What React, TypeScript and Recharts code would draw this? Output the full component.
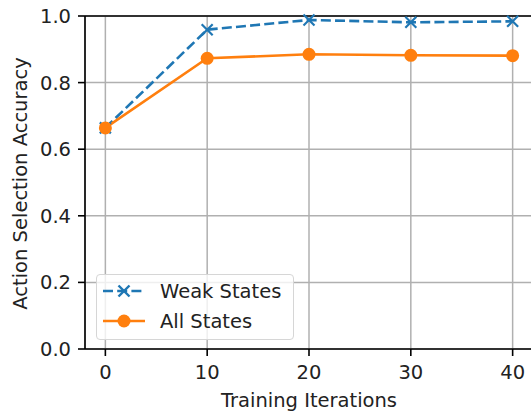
import React from 'react';
import { LineChart, Line, XAxis, YAxis, CartesianGrid, ReferenceLine, Label } from 'recharts';

const iterations = [0, 10, 20, 30, 40];
const weakStates = [0.664, 0.959, 0.988, 0.981, 0.984];
const allStates = [0.664, 0.873, 0.885, 0.882, 0.881];
const seriesNames = ['Weak States', 'All States'];
const xTicks = [0, 10, 20, 30, 40];
const yTicks = [0, 0.2, 0.4, 0.6, 0.8, 1.0];

const data = iterations.map((it, i) => ({ it, weak: weakStates[i], all: allStates[i] }));

const BLUE = '#1f77b4';
const ORANGE = '#ff7f0e';
const FONT = 'DejaVu Sans';
const FS = 19.5;
const DASH = '10 4.2';

const XDot = (props: any) => {
  const { cx, cy } = props;
  if (cx == null || cy == null) return null;
  const s = 5.5;
  return (
    <g>
      <line x1={cx - s} y1={cy - s} x2={cx + s} y2={cy + s} stroke={BLUE} strokeWidth={2.2} />
      <line x1={cx - s} y1={cy + s} x2={cx + s} y2={cy - s} stroke={BLUE} strokeWidth={2.2} />
    </g>
  );
};

const Legend2 = () => (
  <div
    style={{
      position: 'absolute',
      left: 96,
      top: 274,
      width: 198,
      height: 66,
      background: 'rgba(255,255,255,0.8)',
      border: '1.5px solid #d6d6d6',
      borderRadius: 4,
      boxSizing: 'border-box',
    }}
  >
    <svg width={198} height={66} style={{ position: 'absolute', left: -1.5, top: -1.5 }}>
      <line x1={7} y1={17} x2={49} y2={17} stroke={BLUE} strokeWidth={2.6} strokeDasharray={DASH} />
      <g>
        <line x1={28 - 5.5} y1={17 - 5.5} x2={28 + 5.5} y2={17 + 5.5} stroke={BLUE} strokeWidth={2.4} />
        <line x1={28 - 5.5} y1={17 + 5.5} x2={28 + 5.5} y2={17 - 5.5} stroke={BLUE} strokeWidth={2.4} />
      </g>
      <text x={64} y={17} dominantBaseline="central" fontFamily={FONT} fontSize={FS} fill="#222">
        {seriesNames[0]}
      </text>
      <line x1={7} y1={47} x2={49} y2={47} stroke={ORANGE} strokeWidth={2.6} />
      <circle cx={28} cy={47} r={6.5} fill={ORANGE} />
      <text x={64} y={47} dominantBaseline="central" fontFamily={FONT} fontSize={FS} fill="#222">
        {seriesNames[1]}
      </text>
    </svg>
  </div>
);

export default function App() {
  return (
    <div
      style={{
        position: 'absolute',
        left: 0,
        top: 0,
        width: 531,
        height: 413,
        overflow: 'hidden',
        background: '#fff',
      }}
    >
      <LineChart width={560} height={413} data={data} margin={{ top: 16, right: 27, left: 0, bottom: 0 }}>
        <CartesianGrid stroke="#b0b0b0" strokeWidth={1.5} />
        <XAxis
          dataKey="it"
          type="number"
          domain={[-2, 42]}
          ticks={xTicks}
          allowDataOverflow
          height={64}
          tickSize={7}
          tickMargin={9}
          stroke="#000"
          strokeWidth={1.6}
          tick={{ fontFamily: FONT, fontSize: FS, fill: '#222' }}
        >
          <Label
            content={() => (
              <text x={309} y={407} textAnchor="middle" fontFamily={FONT} fontSize={FS} fill="#222">
                Training Iterations
              </text>
            )}
          />
        </XAxis>
        <YAxis
          type="number"
          domain={[0, 1]}
          ticks={yTicks}
          width={85}
          tickSize={7}
          tickMargin={7}
          stroke="#000"
          strokeWidth={1.6}
          tickFormatter={(v: number) => v.toFixed(1)}
          tick={{ fontFamily: FONT, fontSize: FS, fill: '#222' }}
        >
          <Label
            content={() => (
              <text
                x={20}
                y={183.5}
                transform="rotate(-90 20 183.5)"
                textAnchor="middle"
                dominantBaseline="central"
                fontFamily={FONT}
                fontSize={FS}
                fill="#222"
              >
                Action Selection Accuracy
              </text>
            )}
          />
        </YAxis>
        <ReferenceLine y={1} stroke="#000" strokeWidth={1.6} ifOverflow="visible" />
        <Line
          dataKey="weak"
          name={seriesNames[0]}
          stroke={BLUE}
          strokeWidth={2.6}
          strokeDasharray={DASH}
          dot={<XDot />}
          activeDot={false}
          isAnimationActive={false}
        />
        <Line
          dataKey="all"
          name={seriesNames[1]}
          stroke={ORANGE}
          strokeWidth={2.6}
          dot={{ r: 6.5, fill: ORANGE, stroke: ORANGE, strokeWidth: 0 }}
          activeDot={false}
          isAnimationActive={false}
        />
      </LineChart>
      <Legend2 />
    </div>
  );
}
